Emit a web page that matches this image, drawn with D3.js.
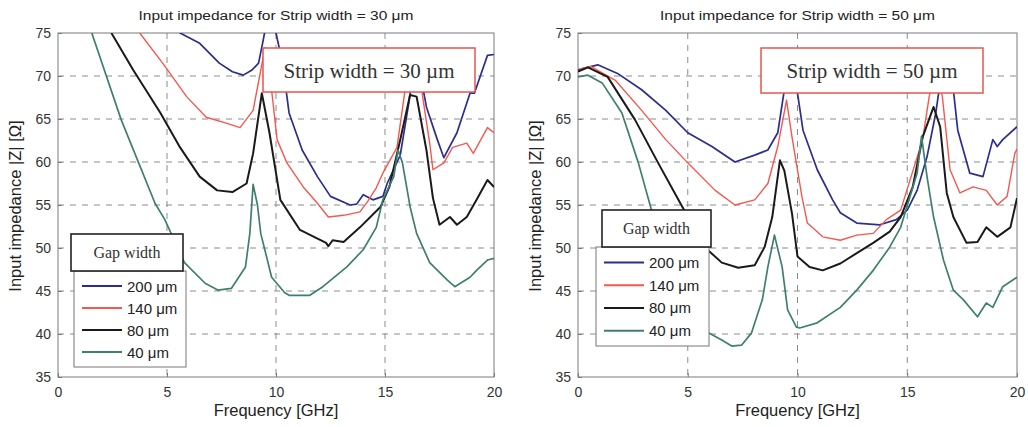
<!DOCTYPE html>
<meta charset="utf-8">
<style>
body { margin: 0; background: #fff; }
svg { display: block; font-family: "Liberation Sans", Arial, sans-serif; }
.grid line { stroke: #8c8c8c; stroke-width: 1; stroke-dasharray: 6,6; }
.tick-label { font-size: 14px; fill: #333; }
.series { fill: none; stroke-linejoin: round; }
</style>
<body>
<div id="chart"></div>
<script src="https://d3js.org/d3.v7.min.js"></script>
<script>

// frequency [GHz], |Z| [ohm]
var xTicks = [0, 5, 10, 15, 20];
var yTicks = [35, 40, 45, 50, 55, 60, 65, 70, 75];
var gapLabels = ["200 \u03bcm", "140 \u03bcm", "80 \u03bcm", "40 \u03bcm"];
var colors = ["#2b2e8e", "#f4584e", "#1a1a1a", "#3f7f72"];
var widths = [1.7, 1.4, 2, 1.7];

// strip width = 30 um
var blue30 = [[5.3,76],[5.6,75],[6.5,73.8],[7.4,71.5],[8.0,70.5],[8.5,70.1],[8.9,70.7],[9.2,71.5],[9.4,74],[9.7,78],[10.0,75],[10.3,71.5],[10.6,65.7],[11.2,61.4],[11.9,58.3],[12.5,56],[13.4,55],[13.7,55.1],[14.0,56.2],[14.45,55.6],[14.9,56],[15.1,57.5],[15.7,60.8],[16.1,67],[16.35,72],[16.6,70.5],[16.9,66.4],[17.4,62.6],[17.7,60.5],[18.3,63.4],[18.9,68],[19.1,68],[19.7,72.4],[20,72.5]];
var red30 = [[3.75,75],[4.8,71.5],[5.9,67.6],[6.8,65.2],[7.75,64.5],[8.35,64],[8.95,66],[9.25,70],[9.5,73.3],[9.7,70.5],[9.85,67.2],[10.05,62.6],[10.5,59.9],[11.25,57.1],[11.9,55.2],[12.4,53.6],[13.1,53.8],[13.85,54.2],[14.2,55.4],[14.6,57],[14.9,58.7],[15.55,61.7],[15.9,68],[16.3,71],[16.6,70],[16.75,67.2],[17.05,62.2],[17.2,59.1],[17.7,59.9],[18.1,61.7],[18.75,62.2],[19.05,61],[19.7,64],[20,63.4]];
var black30 = [[2.45,75],[3.45,70.7],[4.7,65.7],[5.6,61.7],[6.5,58.3],[7.3,56.7],[8.0,56.5],[8.65,57.5],[8.95,61],[9.35,68],[9.7,63.4],[10.2,55.6],[11.1,52.1],[12.3,50.6],[12.4,50.2],[12.6,50.9],[13.1,50.7],[13.85,52.4],[14.8,54.8],[15.2,57.1],[15.7,62.6],[16.15,67.8],[16.45,67.6],[16.9,61.4],[17.2,55.8],[17.5,52.7],[17.98,53.6],[18.3,52.7],[18.75,53.6],[19.2,55.6],[19.7,57.9],[20,57.1]];
var teal30 = [[1.55,75],[2.9,64.9],[3.7,59.9],[4.45,55.2],[4.9,53.3],[5.8,48.3],[6.75,45.9],[7.35,45.1],[7.95,45.3],[8.6,47.8],[8.8,51.7],[8.95,57.4],[9.15,55],[9.3,51.7],[9.8,46.6],[10.4,44.8],[10.6,44.5],[11.55,44.5],[12.15,45.5],[13.25,47.8],[14.0,49.8],[14.6,52.4],[14.9,55.6],[15.4,58.3],[15.6,61.4],[15.8,59.9],[16.15,54.8],[16.45,51.7],[17.05,48.3],[17.85,46.3],[18.2,45.5],[18.9,46.6],[19.2,47.4],[19.7,48.6],[20,48.8]];

// strip width = 50 um
var blue50 = [[0,70.7],[0.9,71.3],[1.8,70.3],[2.9,68.4],[4.0,66],[5.0,63.4],[6.1,61.8],[7.15,60.0],[8.05,60.8],[8.65,61.4],[9.1,63.4],[9.4,68.4],[9.6,72],[9.85,70],[10.0,68],[10.25,63.7],[10.9,59.1],[11.6,55.6],[11.95,54.1],[12.7,52.9],[13.75,52.7],[14.5,53.3],[15.0,54.4],[15.45,56.7],[15.9,60.6],[16.3,65.7],[16.6,71],[16.9,71],[17.1,68.4],[17.3,63.7],[17.85,58.7],[18.45,58.3],[18.9,62.6],[19.1,61.8],[19.35,62.6],[20,64.1]];
var red50 = [[0,70.5],[0.2,70.9],[0.6,71.1],[1.7,69.5],[2.9,66],[4.0,62.6],[5.0,59.9],[6.25,56.7],[7.15,55],[8.05,55.6],[8.65,57.5],[9.1,61.8],[9.5,67.2],[9.75,62.9],[10.2,56],[10.45,52.9],[11.15,51.3],[11.95,50.9],[12.7,51.5],[13.45,51.7],[14.05,53.3],[14.7,54.4],[15.7,62.6],[16.0,67.6],[16.3,71],[16.6,67.6],[16.95,59.1],[17.4,56.4],[18.0,57.1],[18.6,56.7],[19.1,55],[19.55,56],[19.9,61],[20,61.5]];
var black50 = [[0,70.5],[0.45,71],[1.35,69.9],[2.6,64.9],[3.65,59.9],[4.75,54.8],[5.3,52.3],[5.9,49.8],[6.55,48.3],[7.3,47.7],[8.05,48],[8.5,50.1],[8.85,53.6],[9.2,60.2],[9.4,59],[9.75,54],[10.0,49],[10.55,47.8],[11.15,47.4],[11.95,48.2],[12.7,49.4],[13.45,50.6],[14.2,51.9],[14.7,53.6],[15.25,57.1],[15.7,62.9],[16.2,66.4],[16.5,64.1],[16.8,56.4],[17.1,53.6],[17.7,50.6],[18.2,50.7],[18.6,52.4],[19.1,51.3],[19.7,52.4],[20,55.8]];
var teal50 = [[0,69.9],[0.45,70.1],[1.1,69.2],[2.0,65.7],[2.75,59.9],[3.35,54.4],[4.0,49.5],[4.7,45],[5.3,42],[5.9,40.2],[6.55,39.3],[7.0,38.6],[7.45,38.7],[7.9,40.1],[8.4,44],[8.65,47.8],[8.95,51.5],[9.3,47.8],[9.55,42.8],[9.95,40.8],[10.1,40.7],[10.9,41.3],[11.95,43.1],[12.7,45.1],[13.45,47.4],[14.2,50.1],[14.7,52.4],[15.45,58.7],[15.65,63],[15.9,58.3],[16.2,53.6],[16.65,48.6],[17.1,45.1],[17.55,44],[18.2,42],[18.6,43.6],[18.9,43.1],[19.35,45.5],[20,46.6]];

var panels = [
  { id: "p30", title: "Input impedance for Strip width = 30 \u03bcm", note: "Strip width = 30 \u00b5m",
    x0: 58, x1: 494, series: [blue30, red30, black30, teal30],
    noteBox: [263, 48, 212, 44], gapBox: [71, 234, 112, 37], legBox: [74, 271, 112, 96] },
  { id: "p50", title: "Input impedance for Strip width = 50 \u03bcm", note: "Strip width = 50 \u00b5m",
    x0: 578, x1: 1017, series: [blue50, red50, black50, teal50],
    noteBox: [761, 48, 222, 45], gapBox: [602, 210, 109, 37], legBox: [596, 247, 113, 99] }
];

var width = 1028, height = 427,
    yTop = 33, yBottom = 377;

var svg = d3.select("#chart").append("svg")
    .attr("width", width)
    .attr("height", height);

panels.forEach(function(p) {
    var x = d3.scaleLinear().domain([0, 20]).range([p.x0, p.x1]);
    var y = d3.scaleLinear().domain([35, 75]).range([yBottom, yTop]);
    var g = svg.append("g");

    g.append("clipPath").attr("id", "clip-" + p.id)
      .append("rect")
        .attr("x", p.x0).attr("y", yTop)
        .attr("width", p.x1 - p.x0).attr("height", yBottom - yTop);

    // dashed grid
    var grid = g.append("g").attr("class", "grid");
    grid.selectAll("line.gx")
        .data(xTicks.slice(1, -1))
        .enter().append("line")
        .attr("x1", d => x(d)).attr("x2", d => x(d))
        .attr("y1", yTop).attr("y2", yBottom);
    grid.selectAll("line.gy")
        .data(yTicks.slice(1, -1))
        .enter().append("line")
        .attr("y1", d => y(d)).attr("y2", d => y(d))
        .attr("x1", p.x0).attr("x2", p.x1);

    // axes with inward ticks, matlab style
    var xa = g.append("g").attr("transform", "translate(0," + yBottom + ")")
        .call(d3.axisBottom(x).tickValues(xTicks).tickSizeInner(-4).tickSizeOuter(0).tickPadding(10));
    var ya = g.append("g").attr("transform", "translate(" + p.x0 + ",0)")
        .call(d3.axisLeft(y).tickValues(yTicks).tickSizeInner(-4).tickSizeOuter(0).tickPadding(7));
    [xa, ya].forEach(function(a) {
        a.select(".domain").remove();
        a.selectAll(".tick line").attr("stroke", "#777");
        a.selectAll(".tick text").attr("class", "tick-label")
            .style("font-size", "14px").attr("fill", "#333");
    });

    // frame
    g.append("rect")
        .attr("x", p.x0).attr("y", yTop)
        .attr("width", p.x1 - p.x0).attr("height", yBottom - yTop)
        .attr("fill", "none").attr("stroke", "#7a7a7a").attr("stroke-width", 1);

    var line = d3.line().x(d => x(d[0])).y(d => y(d[1]));
    g.append("g").attr("clip-path", "url(#clip-" + p.id + ")")
      .selectAll("path")
        .data(p.series)
        .enter().append("path")
        .attr("class", "series")
        .attr("stroke", (d, i) => colors[i])
        .attr("stroke-width", (d, i) => widths[i])
        .attr("d", line);

    // titles
    g.append("text")
        .attr("x", (p.x0 + p.x1) / 2).attr("y", 20)
        .attr("text-anchor", "middle")
        .style("font-size", "12.5px").attr("fill", "#222")
        .attr("textLength", 275).attr("lengthAdjust", "spacingAndGlyphs")
        .text(p.title);
    g.append("text")
        .attr("x", (p.x0 + p.x1) / 2).attr("y", 416)
        .attr("text-anchor", "middle")
        .style("font-size", "16.5px").attr("fill", "#222")
        .text("Frequency [GHz]");
    g.append("text")
        .attr("transform", "translate(" + (p.x0 - 37) + ",206) rotate(-90)")
        .attr("text-anchor", "middle")
        .style("font-size", "16.5px").attr("fill", "#222")
        .text("Input impedance |Z| [\u03a9]");

    // strip width note
    var nb = p.noteBox;
    g.append("rect")
        .attr("x", nb[0]).attr("y", nb[1]).attr("width", nb[2]).attr("height", nb[3])
        .attr("fill", "#fff").attr("stroke", "#e8544c").attr("stroke-width", 1.5);
    g.append("text")
        .attr("x", nb[0] + nb[2] / 2).attr("y", nb[1] + 30)
        .attr("text-anchor", "middle")
        .style("font-family", "'Liberation Serif', 'Times New Roman', serif")
        .style("font-size", "21px").attr("fill", "#333")
        .text(p.note);

    // legend
    var lb = p.legBox;
    g.append("rect")
        .attr("x", lb[0]).attr("y", lb[1]).attr("width", lb[2]).attr("height", lb[3])
        .attr("fill", "#fff").attr("stroke", "#777").attr("stroke-width", 1);
    var gb = p.gapBox;
    g.append("rect")
        .attr("x", gb[0]).attr("y", gb[1]).attr("width", gb[2]).attr("height", gb[3])
        .attr("fill", "#fff").attr("stroke", "#222").attr("stroke-width", 1.6);
    g.append("text")
        .attr("x", gb[0] + gb[2] / 2).attr("y", gb[1] + 24)
        .attr("text-anchor", "middle")
        .style("font-family", "'Liberation Serif', 'Times New Roman', serif")
        .style("font-size", "16px").attr("fill", "#333")
        .text("Gap width");

    var rowH = (lb[3] - 8) / 4;
    var items = g.selectAll("g.leg")
        .data(gapLabels)
        .enter().append("g")
        .attr("transform", (d, i) => "translate(" + (lb[0] + 8) + "," + (lb[1] + 4 + rowH * (i + 0.5)) + ")");
    items.append("line")
        .attr("x1", 0).attr("x2", 40)
        .attr("stroke", (d, i) => colors[i]).attr("stroke-width", 2);
    items.append("text")
        .attr("x", 45).attr("y", 5.5)
        .style("font-size", "15px").attr("fill", "#222")
        .text(d => d);
});

</script>
</body>
